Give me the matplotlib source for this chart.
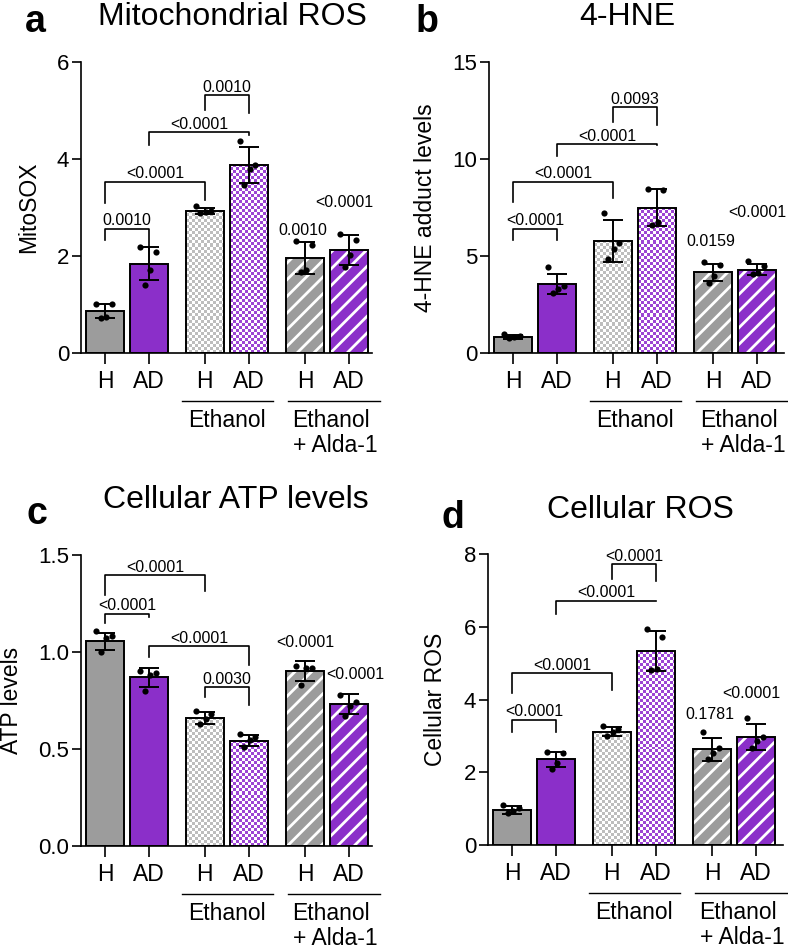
import numpy as np
import matplotlib
matplotlib.use("Agg")
import matplotlib.pyplot as plt
from matplotlib.colors import to_rgb

plt.rcParams['font.family'] = ['Liberation Sans', 'DejaVu Sans']
plt.rcParams['hatch.linewidth'] = 2.0

# ---- data ----
groups = ['H', 'AD', 'H', 'AD', 'H', 'AD']

# a: Mitochondrial ROS
mito_mean = [0.87, 1.84, 2.93, 3.88, 1.96, 2.13]
mito_sd = [0.15, 0.34, 0.07, 0.37, 0.33, 0.31]
mito_pts = [[1.02, 1.01, 0.75, 0.73], [2.18, 2.08, 1.72, 1.40], [3.03, 2.93, 2.91, 2.88],
            [4.38, 3.88, 3.80, 3.47], [2.30, 2.23, 1.72, 1.66], [2.45, 2.33, 2.02, 1.77]]
# bracket: (bar i, bar j, top, left leg end, right leg end, label)
mito_brackets = [(0, 1, 2.56, 2.34, 2.16, '0.0010'), (0, 2, 3.53, 3.09, 3.16, '<0.0001'),
                 (1, 3, 4.55, 4.28, 4.50, '<0.0001'), (2, 3, 5.31, 5.02, 4.95, '0.0010')]
mito_single = [(4, 2.44, '0.0010'), (5, 3.01, '<0.0001')]

# b: 4-HNE
hne_mean = [0.84, 3.57, 5.78, 7.50, 4.17, 4.29]
hne_sd = [0.10, 0.52, 1.07, 0.96, 0.44, 0.28]
hne_pts = [[0.98, 0.90, 0.80, 0.75], [4.43, 3.45, 3.30, 3.10], [7.22, 5.65, 5.35, 4.85],
           [8.45, 8.40, 6.75, 6.60], [4.70, 4.55, 3.95, 3.60], [4.72, 4.50, 4.10, 4.05]]
hne_brackets = [(0, 1, 6.41, 5.84, 5.84, '<0.0001'), (0, 2, 8.83, 7.79, 7.97, '<0.0001'),
                (1, 3, 10.76, 10.16, 10.70, '<0.0001'), (2, 3, 12.66, 11.93, 11.76, '0.0093')]
hne_single = [(4, 5.50, '0.0159'), (5, 7.02, '<0.0001')]

# c: Cellular ATP levels
atp_mean = [1.055, 0.869, 0.660, 0.543, 0.900, 0.731]
atp_sd = [0.045, 0.048, 0.030, 0.030, 0.052, 0.052]
atp_pts = [[1.11, 1.08, 1.07, 1.00], [0.90, 0.89, 0.88, 0.80], [0.695, 0.68, 0.655, 0.63],
           [0.575, 0.56, 0.545, 0.51], [0.93, 0.92, 0.92, 0.83], [0.78, 0.74, 0.72, 0.67]]
atp_brackets = [(0, 2, 1.397, 1.293, 1.314, '<0.0001'), (0, 1, 1.198, 1.147, 1.181, '<0.0001'),
                (1, 3, 1.029, 0.974, 0.931, '<0.0001'), (2, 3, 0.819, 0.767, 0.728, '0.0030')]
atp_single = [(4, 1.026, '<0.0001'), (5, 0.859, '<0.0001')]

# d: Cellular ROS
ros_mean = [0.963, 2.36, 3.12, 5.32, 2.63, 2.98]
ros_sd = [0.10, 0.21, 0.12, 0.55, 0.32, 0.36]
ros_pts = [[1.10, 1.02, 0.93, 0.88], [2.57, 2.54, 2.25, 2.08], [3.27, 3.18, 3.12, 3.00],
           [5.94, 5.72, 4.85, 4.82], [3.12, 2.66, 2.52, 2.37], [3.50, 2.98, 2.85, 2.68]]
ros_brackets = [(2, 3, 7.72, 7.31, 7.27, '<0.0001'), (1, 3, 6.72, 6.36, 6.70, '<0.0001'),
                (0, 2, 4.72, 4.17, 4.27, '<0.0001'), (0, 1, 3.44, 3.12, 3.12, '<0.0001')]
ros_single = [(4, 3.46, '0.1781'), (5, 4.04, '<0.0001')]

# ---- styles ----
GRAY = '#9c9c9c'
PURPLE = '#8b2fc9'
CHECK = ['#bdbdbd', '#9c44d4']
xpos = np.array([0, 1, 2.27, 3.27, 4.55, 5.55])
bw = 0.87
XMIN = -0.545
PX = 44.0  # pixels per x unit
jit = [-0.2, 0.15, 0.02, -0.1]

W, H = 788, 952
fig = plt.figure(figsize=(W / 100, H / 100), dpi=100)


def checker(ax, bar, col):
    x0, y0 = bar.get_x(), bar.get_y()
    w, h = bar.get_width(), bar.get_height()
    p0 = ax.transData.transform((x0, y0))
    p1 = ax.transData.transform((x0 + w, y0 + h))
    nx = max(1, int(round((p1[0] - p0[0]) / 3.0)))
    ny = max(1, int(round((p1[1] - p0[1]) / 3.0)))
    g = np.add.outer(np.arange(ny), np.arange(nx)) % 2
    img = np.where(g[..., None] == 1, np.array(to_rgb(col)), np.ones(3))
    im = ax.imshow(img, extent=(x0, x0 + w, y0, y0 + h), origin='lower',
                   interpolation='nearest', aspect='auto', zorder=1)
    im.set_clip_path(bar)


def panel(left_px, bottom_px, xmax, ymax, yticks, ylab, labx, means, sds, pts,
          brackets, singles, fmt='{:g}', single_dx=(0, 0)):
    wpx = (xmax - XMIN) * PX
    hpx = 291
    ax = fig.add_axes([left_px / W, 1 - bottom_px / H, wpx / W, hpx / H])
    ax.set_xlim(XMIN, xmax)
    ax.set_ylim(0, ymax)

    cols = [GRAY, PURPLE]
    for k in range(6):
        c = cols[k % 2]
        if k < 2:
            ax.bar(xpos[k], means[k], bw, color=c, edgecolor='black', linewidth=1.4, zorder=2)
        elif k < 4:
            b = ax.bar(xpos[k], means[k], bw, color='white', edgecolor='none', zorder=0)
            checker(ax, b.patches[0], CHECK[k % 2])
            ax.bar(xpos[k], means[k], bw, fill=False, edgecolor='black', linewidth=1.4, zorder=3)
        else:
            ax.bar(xpos[k], means[k], bw, color=c, edgecolor='none', zorder=1)
            ax.bar(xpos[k], means[k], bw, fill=False, hatch='//', edgecolor='white',
                   linewidth=0, zorder=2)
            ax.bar(xpos[k], means[k], bw, fill=False, edgecolor='black', linewidth=1.4, zorder=3)

    ax.errorbar(xpos, means, yerr=sds, fmt='none', ecolor='black', elinewidth=1.4,
                capsize=7, capthick=1.4, zorder=4)
    for k in range(6):
        ax.scatter(xpos[k] + np.array(jit), pts[k], s=20, color='black', zorder=5,
                   linewidths=0)

    for (i, j, top, yl, yr, lab) in brackets:
        ax.plot([xpos[i], xpos[i], xpos[j], xpos[j]], [yl, top, top, yr],
                color='black', lw=1.2, zorder=6, clip_on=False)
        ax.annotate(lab, ((xpos[i] + xpos[j]) / 2, top), xytext=(0, 2.5),
                    textcoords='offset points', ha='center', va='baseline', fontsize=11.5)
    for n, (k, yv, lab) in enumerate(singles):
        ax.text(xpos[k] + single_dx[n], yv, lab, ha='center', va='baseline', fontsize=11.5)

    ax.set_ylim(0, ymax)
    ax.set_xlim(XMIN, xmax)
    ax.set_yticks(yticks)
    ax.set_yticklabels([fmt.format(t) for t in yticks])
    ax.set_xticks(xpos)
    ax.set_xticklabels(groups)
    ax.tick_params(axis='y', length=6.5, width=1.2, labelsize=16, pad=2)
    ax.tick_params(axis='x', length=8, width=1.2, labelsize=16.5, pad=4)
    for s in ['top', 'right']:
        ax.spines[s].set_visible(False)
    for s in ['left', 'bottom']:
        ax.spines[s].set_linewidth(1.2)
    ax.set_ylabel(ylab, fontsize=16.5)
    ax.yaxis.set_label_coords(labx, 0.5)

    tr = ax.get_xaxis_transform()
    ax.plot([1.75, 3.82], [-0.165, -0.165], color='black', lw=1.0, transform=tr, clip_on=False)
    ax.plot([4.16, 6.25], [-0.165, -0.165], color='black', lw=1.0, transform=tr, clip_on=False)
    ax.text(2.77, -0.255, 'Ethanol', transform=tr, ha='center', va='baseline', fontsize=16.5)
    ax.text(4.25, -0.255, 'Ethanol', transform=tr, ha='left', va='baseline', fontsize=16.5)
    ax.text(4.27, -0.34, '+ Alda-1', transform=tr, ha='left', va='baseline', fontsize=16.5)
    return ax


panel(81, 353, 6.07, 6, [0, 2, 4, 6], 'MitoSOX', -0.14,
      mito_mean, mito_sd, mito_pts, mito_brackets, mito_single, single_dx=(-0.05, -0.1))
panel(489, 353, 6.16, 15, [0, 5, 10, 15], '4-HNE adduct levels', -0.175,
      hne_mean, hne_sd, hne_pts, hne_brackets, hne_single, single_dx=(-0.05, 0))
panel(81, 846, 6.07, 1.5, [0, 0.5, 1.0, 1.5], 'ATP levels', -0.2,
      atp_mean, atp_sd, atp_pts, atp_brackets, atp_single, fmt='{:.1f}', single_dx=(0, 0.13))
panel(488, 845, 6.16, 8, [0, 2, 4, 6, 8], 'Cellular ROS', -0.14,
      ros_mean, ros_sd, ros_pts, ros_brackets, ros_single, single_dx=(-0.05, -0.1))

# titles and panel letters
titles = [('Mitochondrial ROS', 232, 25), ('4-HNE', 627, 25),
          ('Cellular ATP levels', 236, 508), ('Cellular ROS', 640, 518)]
for t, x, y in titles:
    fig.text(x / W, 1 - y / H, t, ha='center', va='baseline', fontsize=23)
letters = [('a', 25, 32), ('b', 416, 32), ('c', 26, 524), ('d', 442, 528)]
for t, x, y in letters:
    fig.text(x / W, 1 - y / H, t, ha='left', va='baseline', fontsize=27, fontweight='bold')

fig.savefig('out.png', dpi=100)
